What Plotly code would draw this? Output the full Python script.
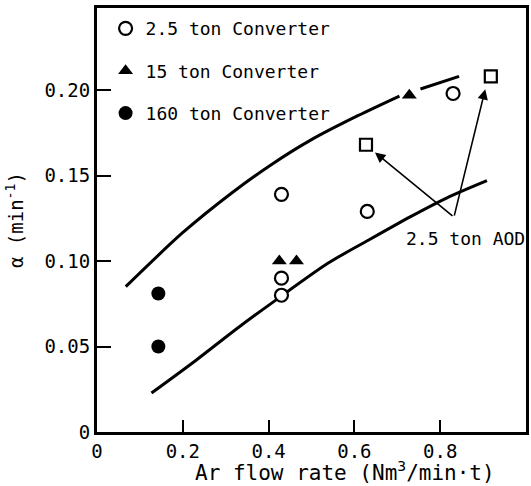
import plotly.graph_objects as go

# ---- data ----
conv25_x = [0.43, 0.43, 0.43, 0.63, 0.83]
conv25_y = [0.139, 0.090, 0.080, 0.129, 0.198]
conv15_x = [0.425, 0.465, 0.728]
conv15_y = [0.100, 0.100, 0.197]
conv160_x = [0.143, 0.143]
conv160_y = [0.081, 0.050]
aod_x = [0.627, 0.918]
aod_y = [0.168, 0.208]

upper1_x = [0.067, 0.199, 0.314, 0.407, 0.5, 0.608, 0.705]
upper1_y = [0.085, 0.1164, 0.1398, 0.1565, 0.171, 0.185, 0.1965]
upper2_x = [0.754, 0.844]
upper2_y = [0.2006, 0.208]
lower_x = [0.127, 0.231, 0.331, 0.416, 0.539, 0.631, 0.731, 0.816, 0.909]
lower_y = [0.0228, 0.042, 0.0614, 0.077, 0.0988, 0.112, 0.126, 0.137, 0.147]

aod_label = "2.5 ton AOD"
aod_label_pos = (0.858, 0.113)
aod_arrow_tail = (0.832, 0.1257)
aod_arrow_heads = [(0.648, 0.1635), (0.905, 0.2005)]

x_tickvals = [0, 0.2, 0.4, 0.6, 0.8]
x_ticktext = ["0", "0.2", "0.4", "0.6", "0.8"]
y_tickvals = [0, 0.05, 0.10, 0.15, 0.20]
y_ticktext = ["0", "0.05", "0.10", "0.15", "0.20"]

FONT = "DejaVu Sans Mono"

fig = go.Figure()

line_style = dict(color="black", width=3, shape="spline", smoothing=0.8)
for xs, ys in [(upper1_x, upper1_y), (upper2_x, upper2_y), (lower_x, lower_y)]:
    fig.add_trace(go.Scatter(x=xs, y=ys, mode="lines", line=line_style,
                             showlegend=False, hoverinfo="skip"))

fig.add_trace(go.Scatter(
    x=conv25_x, y=conv25_y, mode="markers", name="2.5 ton Converter",
    legendgroup="a",
    marker=dict(symbol="circle", size=13, color="white",
                line=dict(color="black", width=2.2))))
fig.add_trace(go.Scatter(
    x=conv15_x, y=conv15_y, mode="markers", name="15 ton Converter",
    legendgroup="b",
    marker=dict(symbol="triangle-up", size=13, color="black",
                line=dict(color="black", width=0))))
fig.add_trace(go.Scatter(
    x=conv160_x, y=conv160_y, mode="markers", name="160 ton Converter",
    legendgroup="c",
    marker=dict(symbol="circle", size=14, color="black",
                line=dict(color="black", width=0))))
fig.add_trace(go.Scatter(
    x=aod_x, y=aod_y, mode="markers", name=aod_label, showlegend=False,
    marker=dict(symbol="square", size=12, color="white",
                line=dict(color="black", width=2.2))))

for hx, hy in aod_arrow_heads:
    fig.add_annotation(x=hx, y=hy, ax=aod_arrow_tail[0], ay=aod_arrow_tail[1],
                       axref="x", ayref="y", xref="x", yref="y",
                       text="", showarrow=True, arrowhead=2, arrowsize=1.3,
                       arrowwidth=1.6, arrowcolor="black", standoff=0)

fig.add_annotation(x=aod_label_pos[0], y=aod_label_pos[1], xref="x", yref="y",
                   text=aod_label, showarrow=False,
                   font=dict(family=FONT, size=18, color="black"))

fig.add_annotation(x=0.577, y=-0.092, xref="paper", yref="paper",
                   xanchor="center", yanchor="middle",
                   text="Ar flow rate (Nm<sup>3</sup>/min·t)", showarrow=False,
                   font=dict(family=FONT, size=21, color="black"))

fig.update_xaxes(range=[0, 1.0], tickvals=x_tickvals, ticktext=x_ticktext,
                 ticks="inside", ticklen=12, tickwidth=2, tickcolor="black",
                 showline=True, linewidth=3, linecolor="black", mirror=True,
                 showgrid=False, zeroline=False,
                 tickfont=dict(family=FONT, size=19, color="black"))
fig.update_yaxes(range=[0, 0.248], tickvals=y_tickvals, ticktext=y_ticktext,
                 ticks="inside", ticklen=14, tickwidth=2, tickcolor="black",
                 showline=True, linewidth=3, linecolor="black", mirror=True,
                 showgrid=False, zeroline=False,
                 tickfont=dict(family=FONT, size=19, color="black"),
                 title=dict(text="α (min<sup>-1</sup>)", standoff=16,
                            font=dict(family=FONT, size=19, color="black")))

fig.update_layout(
    width=531, height=486,
    margin=dict(l=97, r=2, t=8, b=54),
    paper_bgcolor="white", plot_bgcolor="white",
    legend=dict(x=0.02, y=0.995, xanchor="left", yanchor="top",
                font=dict(family=FONT, size=18, color="black"),
                tracegroupgap=16, bgcolor="rgba(0,0,0,0)"),
)

fig.write_html("out.html", config={"displayModeBar": False},
               post_script="document.body.style.margin='0';document.body.style.padding='0';")
